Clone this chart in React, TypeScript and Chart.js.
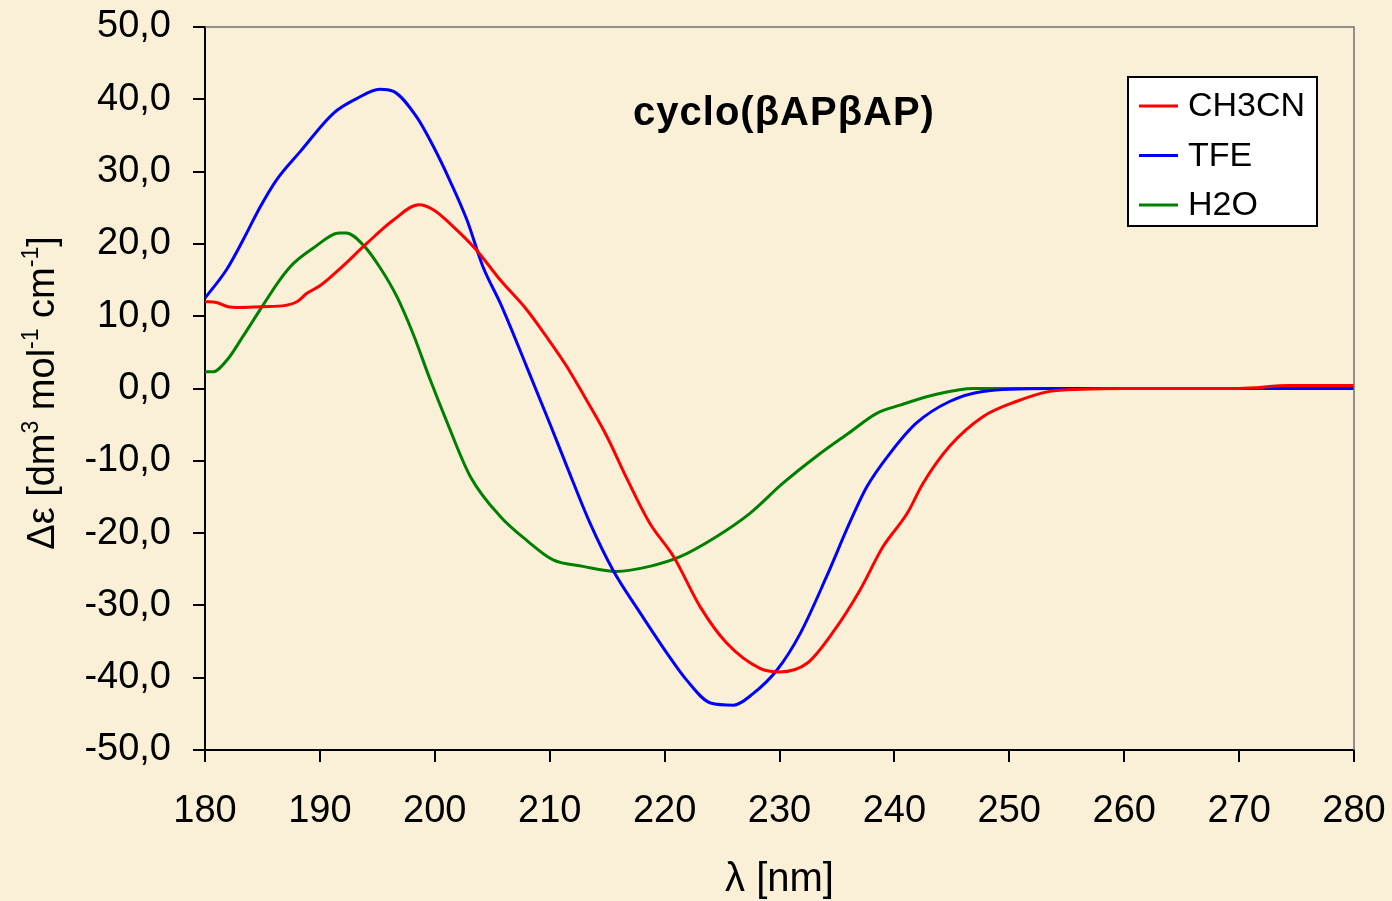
import React, { useEffect, useRef } from 'react';
import { Chart, registerables } from 'chart.js';

Chart.register(...registerables);

const CHART_TITLE = 'cyclo(βAPβAP)';
const X_TITLE = 'λ [nm]';
const Y_TITLE_PARTS: { t: string; sup: boolean }[] = [
  { t: 'Δε [dm', sup: false },
  { t: '3', sup: true },
  { t: ' mol', sup: false },
  { t: '-1', sup: true },
  { t: ' cm', sup: false },
  { t: '-1', sup: true },
  { t: ']', sup: false },
];

const SERIES_LABELS = ['CH3CN', 'TFE', 'H2O'];
const SERIES_COLORS = ['#FF0000', '#0000FF', '#008000'];

const X_MIN = 180;
const X_MAX = 280;
const X_STEP = 10;
const Y_MIN = -50;
const Y_MAX = 50;
const Y_STEP = 10;

const ch3cnX = [180, 181, 182, 183, 185, 187, 188, 188.9, 190, 191.7, 194.1, 196.4, 198.6, 199.9, 201.6, 203.6, 205.7, 208, 209.7, 211.5, 213.2, 215, 216.7, 218.7, 220.8, 223.1, 225.4, 228.3, 230, 232.4, 234.7, 237, 239, 241.1, 242.5, 244.8, 247.7, 250.6, 253.5, 256.4, 260, 265, 270, 274.4, 280];
const ch3cnY = [12.0, 11.9, 11.3, 11.2, 11.3, 11.5, 12.0, 13.2, 14.2, 16.5, 20.1, 23.3, 25.4, 24.7, 22.4, 19.2, 15.0, 10.9, 7.2, 3.0, -1.6, -6.7, -12.4, -18.6, -23.3, -30.2, -35.2, -38.7, -39.2, -38.0, -33.6, -27.9, -21.9, -17.3, -13.1, -8.0, -3.9, -1.8, -0.4, -0.1, 0, 0, 0, 0.4, 0.4];

const tfeX = [180, 181.9, 183.3, 184.8, 186.2, 188.3, 191.2, 193.2, 195.2, 196.4, 198.4, 199.9, 201.3, 202.8, 204.2, 205.7, 208, 210, 211.5, 213.5, 215.5, 217.9, 220.2, 221.9, 224, 226, 227.7, 229.8, 231.8, 234.1, 236.1, 237.6, 239.6, 241.9, 244.8, 247.7, 253.5, 260, 270, 280];
const tfeY = [12.5, 16.5, 20.5, 25.1, 28.8, 32.8, 38.1, 40.1, 41.4, 41.1, 37.6, 33.4, 28.8, 23.3, 16.8, 11.8, 3.0, -4.8, -10.8, -18.6, -25.1, -31.1, -36.6, -40.3, -43.5, -43.8, -42.2, -38.9, -33.9, -26.0, -18.6, -13.6, -9.0, -4.8, -1.8, -0.4, 0, 0, 0, 0];

const h2oX = [180, 180.7, 181.9, 183.3, 184.8, 186.5, 187.7, 189.4, 191.7, 192.3, 193.8, 195.2, 196.7, 198.1, 199.6, 201, 203.1, 205.7, 208, 210.3, 212.9, 215.8, 218.7, 221.3, 224.5, 227.4, 230.3, 233.2, 236, 238.5, 240.5, 243.4, 246.9, 250, 260, 270, 280];
const h2oY = [2.3, 2.3, 3.9, 7.2, 10.9, 15.0, 17.3, 19.4, 21.5, 21.5, 19.8, 16.8, 12.7, 7.6, 1.2, -4.4, -12.2, -17.7, -21.0, -23.7, -24.6, -25.3, -24.6, -23.3, -20.5, -17.3, -13.1, -9.4, -6.2, -3.4, -2.3, -0.9, 0, 0, 0, 0, 0];

const SERIES_X = [ch3cnX, tfeX, h2oX];
const SERIES_Y = [ch3cnY, tfeY, h2oY];

const FONT = '"Liberation Sans", Arial, sans-serif';
const BG = '#FAF0D7';

const W = 1392;
const H = 901;

const zeroPad = (s: any) => {
  s.paddingTop = 0;
  s.paddingBottom = 0;
  s.paddingLeft = 0;
  s.paddingRight = 0;
};

export default function App() {
  const ref = useRef<HTMLCanvasElement | null>(null);

  useEffect(() => {
    const canvas = ref.current;
    if (!canvas) return;

    const bgPlugin = {
      id: 'bg',
      beforeDraw(chart: any) {
        const ctx = chart.ctx;
        ctx.save();
        ctx.fillStyle = BG;
        ctx.fillRect(0, 0, chart.width, chart.height);
        ctx.restore();
      },
    };

    const decorPlugin = {
      id: 'decor',
      afterDraw(chart: any) {
        const ctx = chart.ctx as CanvasRenderingContext2D;
        const a = chart.chartArea;
        ctx.save();
        ctx.strokeStyle = '#707070';
        ctx.lineWidth = 1.5;
        ctx.beginPath();
        ctx.moveTo(a.left, a.top);
        ctx.lineTo(a.right, a.top);
        ctx.lineTo(a.right, a.bottom);
        ctx.stroke();

        ctx.fillStyle = '#000';
        ctx.font = `bold 40px ${FONT}`;
        (ctx as any).letterSpacing = '1px';
        ctx.textAlign = 'center';
        ctx.textBaseline = 'alphabetic';
        ctx.fillText(CHART_TITLE, 784, 125);
        (ctx as any).letterSpacing = '0px';

        ctx.font = `40px ${FONT}`;
        ctx.fillText(X_TITLE, (a.left + a.right) / 2, 891);

        const mainSize = 38;
        const supSize = 23;
        let total = 0;
        Y_TITLE_PARTS.forEach((p) => {
          ctx.font = `${p.sup ? supSize : mainSize}px ${FONT}`;
          total += ctx.measureText(p.t).width;
        });
        ctx.translate(54, 393);
        ctx.rotate(-Math.PI / 2);
        ctx.textAlign = 'left';
        let xx = -total / 2;
        Y_TITLE_PARTS.forEach((p) => {
          ctx.font = `${p.sup ? supSize : mainSize}px ${FONT}`;
          ctx.fillText(p.t, xx, p.sup ? -16 : 0);
          xx += ctx.measureText(p.t).width;
        });
        ctx.restore();

        ctx.save();
        const lx = 1128, ly = 77, lw = 189, lh = 149;
        ctx.fillStyle = '#FFFFFF';
        ctx.fillRect(lx, ly, lw, lh);
        ctx.strokeStyle = '#000';
        ctx.lineWidth = 2;
        ctx.strokeRect(lx, ly, lw, lh);
        ctx.font = `34px ${FONT}`;
        ctx.textAlign = 'left';
        ctx.textBaseline = 'middle';
        chart.data.datasets.forEach((ds: any, i: number) => {
          const yy = 106 + i * 49.5;
          ctx.strokeStyle = ds.borderColor;
          ctx.lineWidth = 3;
          ctx.beginPath();
          ctx.moveTo(1139, yy);
          ctx.lineTo(1178, yy);
          ctx.stroke();
          ctx.fillStyle = '#000';
          ctx.fillText(ds.label, 1188, yy + 1);
        });
        ctx.restore();
      },
    };

    const chart = new Chart(canvas, {
      type: 'line',
      data: {
        datasets: SERIES_LABELS.map((label, i) => ({
          label,
          data: SERIES_X[i].map((x, j) => ({ x, y: SERIES_Y[i][j] })),
          borderColor: SERIES_COLORS[i],
          backgroundColor: SERIES_COLORS[i],
          borderWidth: 3,
          pointRadius: 0,
          fill: false,
          cubicInterpolationMode: 'monotone' as const,
        })),
      },
      options: {
        responsive: false,
        animation: false,
        events: [],
        layout: { padding: { top: 27, right: 38, left: 0, bottom: 0 } },
        plugins: {
          legend: { display: false },
          title: { display: false },
          tooltip: { enabled: false },
        },
        scales: {
          x: {
            type: 'linear',
            min: X_MIN,
            max: X_MAX,
            ticks: {
              stepSize: X_STEP,
              color: '#000',
              font: { family: FONT, size: 38 },
              padding: 27,
              maxRotation: 0,
              autoSkip: false,
            },
            grid: { drawOnChartArea: false, drawTicks: true, tickLength: 12, color: '#000', lineWidth: 2 },
            border: { display: true, color: '#000', width: 2 },
            afterFit: (s: any) => {
              s.height = H - 750;
              zeroPad(s);
            },
          },
          y: {
            type: 'linear',
            min: Y_MIN,
            max: Y_MAX,
            ticks: {
              stepSize: Y_STEP,
              color: '#000',
              font: { family: FONT, size: 38 },
              padding: 22,
              callback: (v: any) => Number(v).toFixed(1).replace('.', ','),
            },
            grid: { drawOnChartArea: false, drawTicks: true, tickLength: 12, color: '#000', lineWidth: 2 },
            border: { display: true, color: '#000', width: 2 },
            afterFit: (s: any) => {
              s.width = 205;
              zeroPad(s);
            },
          },
        },
      },
      plugins: [bgPlugin, decorPlugin],
    } as any);

    return () => chart.destroy();
  }, []);

  return (
    <div style={{ position: 'absolute', left: 0, top: 0, width: W, height: H, background: BG }}>
      <canvas ref={ref} width={W} height={H} style={{ display: 'block', width: W, height: H }} />
    </div>
  );
}
